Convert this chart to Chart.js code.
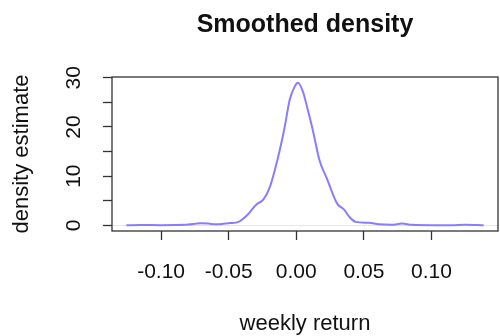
<!DOCTYPE html>
<html lang="en">
  <head>
    <meta charset="UTF-8" />
    <script src="https://cdn.jsdelivr.net/npm/chart.js"></script>
    <style>
      html, body { margin: 0; padding: 0; background: #fff; }
      canvas { display: block; }
    </style>
    <title>Smoothed density</title>
  </head>
  <body>
    <canvas id="densityChart" width="500" height="336"></canvas>
    <script>
      // values
      const weeklyReturn = [
        -0.1257, -0.115, -0.1, -0.09, -0.08, -0.071, -0.065, -0.06, -0.054, -0.049,
        -0.0427, -0.0366, -0.0293, -0.0244, -0.0195, -0.0159, -0.0122, -0.0085, -0.0049, -0.0012,
        0.0012, 0.0049, 0.0085, 0.0122, 0.0171, 0.0231, 0.0268, 0.0305, 0.0354, 0.039,
        0.0439, 0.0537, 0.061, 0.0707, 0.078, 0.0854, 0.1, 0.115, 0.125, 0.1386
      ];
      const densityEstimate = [
        0, 0.08, 0.03, 0.05, 0.15, 0.4, 0.35, 0.2, 0.3, 0.45,
        0.7, 2.0, 4.3, 5.2, 7.8, 11.2, 15.3, 20.1, 25.5, 28.2,
        29.0, 27.2, 23.5, 19.4, 13.3, 9.2, 6.5, 4.3, 3.2, 1.8,
        0.7, 0.5, 0.2, 0.1, 0.35, 0.1, 0.02, 0.03, 0.12, 0
      ];
      const xTicks = [-0.1, -0.05, 0, 0.05, 0.1];
      const xTickLabels = ["-0.10", "-0.05", "0.00", "0.05", "0.10"];
      const yTicks = [0, 5, 10, 15, 20, 25, 30];
      const yTickLabels = [0, 10, 20, 30];

      const FONT = '"Liberation Sans", Arial, Helvetica, sans-serif';

      // R-style frame, title, axis titles and tick labels
      const rFrame = {
        id: "rFrame",
        afterDraw(chart) {
          const { ctx, chartArea: a, scales } = chart;
          ctx.save();
          ctx.strokeStyle = "#333";
          ctx.lineWidth = 1.3;
          ctx.strokeRect(a.left, a.top, a.right - a.left, a.bottom - a.top);

          ctx.fillStyle = "#111";
          ctx.textAlign = "center";
          ctx.font = "bold 25px " + FONT;
          ctx.textBaseline = "alphabetic";
          ctx.fillText("Smoothed density", (a.left + a.right) / 2, 32);

          ctx.font = "21px " + FONT;
          ctx.textBaseline = "middle";
          xTicks.forEach((v, i) => {
            ctx.fillText(xTickLabels[i], scales.x.getPixelForValue(v), 272);
          });

          ctx.font = "22px " + FONT;
          ctx.textBaseline = "alphabetic";
          ctx.fillText("weekly return", (a.left + a.right) / 2, 330);

          yTickLabels.forEach((v) => {
            ctx.save();
            ctx.translate(73, scales.y.getPixelForValue(v));
            ctx.rotate(-Math.PI / 2);
            ctx.font = "21px " + FONT;
            ctx.textBaseline = "middle";
            ctx.fillText(String(v), 0, 1);
            ctx.restore();
          });

          ctx.save();
          ctx.translate(22, (a.top + a.bottom) / 2);
          ctx.rotate(-Math.PI / 2);
          ctx.font = "22px " + FONT;
          ctx.textBaseline = "middle";
          ctx.fillText("density estimate", 0, 0);
          ctx.restore();

          ctx.restore();
        },
      };

      new Chart(document.getElementById("densityChart").getContext("2d"), {
        type: "line",
        data: {
          datasets: [
            {
              data: weeklyReturn.map((x, i) => ({ x: x, y: densityEstimate[i] })),
              borderColor: "rgb(138,124,255)",
              borderWidth: 2,
              pointRadius: 0,
              fill: false,
              cubicInterpolationMode: "monotone",
            },
          ],
        },
        options: {
          responsive: false,
          animation: false,
          devicePixelRatio: 1,
          layout: { padding: { top: 77, right: 2, left: 0, bottom: 0 } },
          plugins: { legend: { display: false }, title: { display: false }, tooltip: { enabled: false } },
          scales: {
            x: {
              type: "linear",
              min: -0.1363,
              max: 0.1492,
              afterBuildTicks: (s) => { s.ticks = xTicks.map((v) => ({ value: v })); },
              afterFit: (s) => { s.height = 105; },
              ticks: { display: false },
              grid: { drawOnChartArea: false, tickLength: 9, tickColor: "#333", tickWidth: 1.3 },
              border: { display: false },
            },
            y: {
              min: -1.16,
              max: 30.16,
              afterBuildTicks: (s) => { s.ticks = yTicks.map((v) => ({ value: v })); },
              afterFit: (s) => { s.width = 112; },
              ticks: { display: false },
              grid: {
                drawOnChartArea: true,
                color: (c) => (c.tick && c.tick.value === 0 ? "#e6e6e6" : "rgba(0,0,0,0)"),
                tickLength: 9,
                tickColor: "#333",
                tickWidth: 1.3,
              },
              border: { display: false },
            },
          },
        },
        plugins: [rFrame],
      });
    </script>
  </body>
</html>
